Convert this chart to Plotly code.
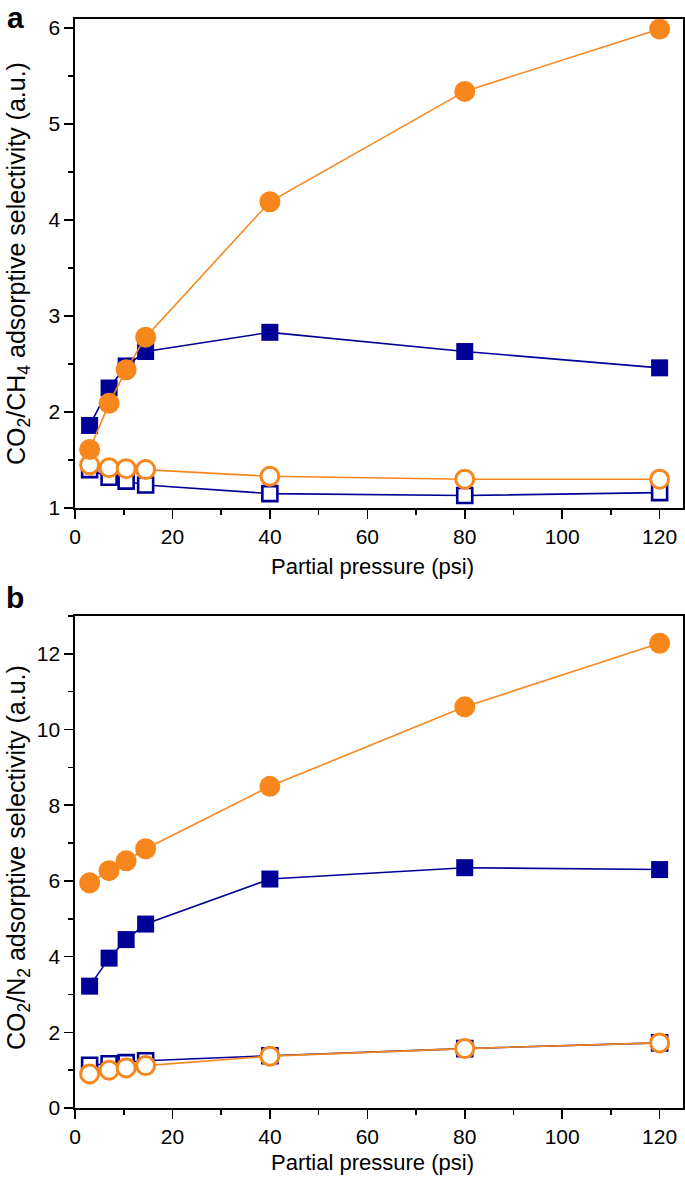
import plotly.graph_objects as go
from plotly.subplots import make_subplots

# Partial pressure (psi)
pressure = [3, 7, 10.5, 14.5, 40, 80, 120]

# Panel a: CO2/CH4 selectivity
a_filled_circle = [1.61, 2.09, 2.44, 2.78, 4.19, 5.34, 5.99]
a_filled_square = [1.86, 2.25, 2.48, 2.63, 2.83, 2.63, 2.46]
a_open_circle = [1.45, 1.42, 1.41, 1.40, 1.33, 1.30, 1.30]
a_open_square = [1.40, 1.32, 1.28, 1.24, 1.15, 1.13, 1.16]

# Panel b: CO2/N2 selectivity
b_filled_circle = [5.95, 6.27, 6.53, 6.85, 8.50, 10.60, 12.28]
b_filled_square = [3.22, 3.96, 4.45, 4.86, 6.05, 6.35, 6.30]
b_open_square = [1.13, 1.17, 1.20, 1.25, 1.38, 1.57, 1.72]
b_open_circle = [0.90, 1.00, 1.06, 1.12, 1.37, 1.57, 1.72]

x_ticks = [0, 20, 40, 60, 80, 100, 120]
a_ticks = [1, 2, 3, 4, 5, 6]
b_ticks = [0, 2, 4, 6, 8, 10, 12]

ORANGE = "#F7871C"
BLUE = "#000096"
FONT = "Liberation Sans, Arial, Helvetica, sans-serif"

W, H = 685, 1177
L, R, T, B = 75, 2, 19, 69
PW = W - L - R
PH = H - T - B

fig = make_subplots(rows=2, cols=1, vertical_spacing=0.0)


def add_series(row, y, color, symbol, size, filled):
    if filled:
        marker = dict(symbol=symbol, size=size, color=color, line=dict(width=0))
    else:
        marker = dict(symbol=symbol, size=size, color="white",
                      line=dict(width=3 if symbol == "circle" else 2.6, color=color))
    fig.add_trace(
        go.Scatter(x=pressure, y=y, mode="lines+markers",
                   line=dict(color=color, width=1.6), marker=marker,
                   showlegend=False, cliponaxis=False, hoverinfo="skip"),
        row=row, col=1)


# panel a (squares first, circles on top)
add_series(1, a_open_square, BLUE, "square", 15, False)
add_series(1, a_filled_square, BLUE, "square", 17, True)
add_series(1, a_open_circle, ORANGE, "circle", 18, False)
add_series(1, a_filled_circle, ORANGE, "circle", 21, True)

# panel b
add_series(2, b_filled_square, BLUE, "square", 17, True)
add_series(2, b_open_square, BLUE, "square", 15, False)
add_series(2, b_filled_circle, ORANGE, "circle", 21, True)
add_series(2, b_open_circle, ORANGE, "circle", 18, False)

TICK_FONT = dict(family=FONT, size=21, color="black")
axis_common = dict(
    showline=True, linecolor="black", linewidth=1.6, mirror=True,
    ticks="outside", ticklen=9, tickwidth=1.6, tickcolor="black",
    showgrid=False, zeroline=False, automargin=False,
    tickfont=TICK_FONT,
)

for r in (1, 2):
    fig.update_xaxes(
        range=[0, 124.8], tickvals=x_ticks,
        minor=dict(dtick=10, tick0=0, ticks="outside", ticklen=5, tickwidth=1.6, tickcolor="black"),
        **axis_common, row=r, col=1)

fig.update_yaxes(
    range=[1, 6.094], tickvals=a_ticks,
    minor=dict(dtick=0.5, tick0=1, ticks="outside", ticklen=5, tickwidth=1.6, tickcolor="black"),
    **axis_common, row=1, col=1)

fig.update_yaxes(
    range=[0, 13], tickvals=b_ticks,
    minor=dict(dtick=1, tick0=0, ticks="outside", ticklen=5, tickwidth=1.6, tickcolor="black"),
    **axis_common, row=2, col=1)


def px_x(px):
    return (px - L) / PW


def px_y(px):
    return (H - B - px) / PH


def note(text, xpx, ypx, size, bold=False, angle=0):
    return dict(text=f"<b>{text}</b>" if bold else text,
                x=px_x(xpx), y=px_y(ypx), xref="paper", yref="paper",
                showarrow=False, textangle=angle,
                font=dict(family=FONT, size=size, color="black"),
                xanchor="center", yanchor="middle")


annotations = [
    note("a", 15, 18, 30, bold=True),
    note("b", 15, 597, 30, bold=True),
    note("Partial pressure (psi)", 372, 566, 22),
    note("Partial pressure (psi)", 372, 1162, 22),
    note("CO<sub>2</sub>/CH<sub>4</sub> adsorptive selectivity (a.u.)", 18, 264, 25, angle=-90),
    note("CO<sub>2</sub>/N<sub>2</sub> adsorptive selectivity (a.u.)", 18, 858, 25, angle=-90),
]

fig.update_layout(
    width=W, height=H,
    margin=dict(l=L, r=R, t=T, b=B),
    paper_bgcolor="white", plot_bgcolor="white",
    font=dict(family=FONT, color="black"),
    yaxis=dict(domain=[px_y(508), 1.0]),
    yaxis2=dict(domain=[0.0, px_y(616)]),
    annotations=annotations,
    hovermode=False,
)

fig.write_html("out.html", config={"displayModeBar": False, "staticPlot": True},
               post_script="document.body.style.margin='0';document.body.style.overflow='hidden';")
